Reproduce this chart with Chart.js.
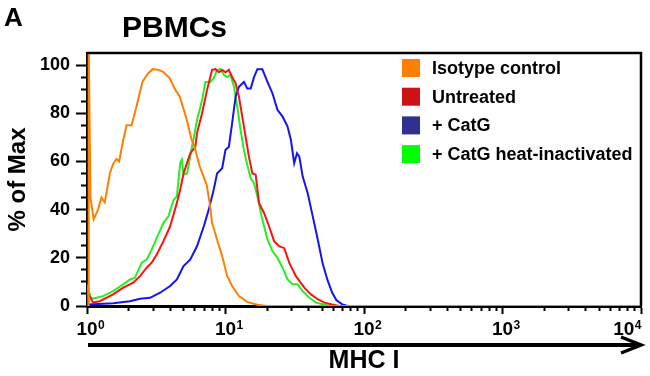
<!DOCTYPE html>
<html>
<head>
<meta charset="utf-8">
<script src="https://cdn.jsdelivr.net/npm/chart.js@4.4.1/dist/chart.umd.min.js"></script>
<style>
    html, body { margin: 0; padding: 0; background: #fff; }
</style>
</head>
<body>
<canvas id="chart-div" width="650" height="376"></canvas>
<script>
// x values are log10(MHC I)
var isoX = [0.008, 0.012, 0.025, 0.048, 0.08, 0.104, 0.128, 0.165, 0.189, 0.213, 0.232, 0.262, 0.286, 0.322, 0.358, 0.4, 0.44, 0.475, 0.516, 0.547, 0.597, 0.635, 0.669, 0.719, 0.755, 0.777, 0.813, 0.863, 0.885, 0.903, 0.939, 0.976, 1.012, 1.048, 1.097, 1.157, 1.23, 1.3, 4];
var isoY = [0, 110, 45, 36, 40, 45, 43, 55, 59, 61, 60, 69, 75, 75, 83, 93, 96.5, 98.3, 98, 97.3, 94.6, 90, 87, 77.6, 69, 66, 58, 50.5, 43, 34.5, 27.6, 20.7, 12.4, 8.3, 4.1, 1.7, 0.5, 0, 0];

var untreatedX = [0.005, 0.01, 0.044, 0.092, 0.189, 0.262, 0.334, 0.383, 0.431, 0.467, 0.504, 0.552, 0.6, 0.649, 0.673, 0.697, 0.722, 0.746, 0.782, 0.794, 0.831, 0.867, 0.903, 0.927, 0.952, 0.976, 1.0, 1.024, 1.048, 1.073, 1.097, 1.121, 1.145, 1.169, 1.194, 1.218, 1.242, 1.278, 1.315, 1.351, 1.387, 1.424, 1.46, 1.508, 1.569, 1.617, 1.666, 1.714, 1.763, 1.82, 4];
var untreatedY = [0, 5, 1.5, 2, 4.8, 7.6, 9.7, 12.4, 15.9, 18, 21.4, 26.9, 33, 42.8, 48.3, 55, 59.3, 63.4, 66, 71.7, 80, 89.7, 98, 98.3, 97, 98, 97, 98, 95, 92.4, 86.9, 78.6, 70.3, 62, 55, 54.5, 42.8, 38.6, 33, 26.9, 24.8, 24, 18, 12.4, 7.6, 4.8, 2.8, 1.4, 0.7, 0, 0];

var catgX = [0.004, 0.01, 0.189, 0.31, 0.383, 0.455, 0.528, 0.6, 0.649, 0.697, 0.746, 0.794, 0.843, 0.879, 0.915, 0.939, 0.976, 1.0, 1.024, 1.048, 1.073, 1.097, 1.133, 1.157, 1.182, 1.206, 1.23, 1.266, 1.303, 1.339, 1.375, 1.412, 1.448, 1.472, 1.496, 1.516, 1.533, 1.557, 1.593, 1.63, 1.666, 1.702, 1.738, 1.77, 1.8, 1.84, 1.88, 4];
var catgY = [0, 0.6, 1.1, 2, 3, 3.4, 5.5, 8.3, 11, 16.6, 19.3, 24.8, 33, 40, 48.3, 55, 57.2, 64.8, 66, 75.9, 86.9, 91, 93, 90.3, 90.3, 95, 98.3, 98.3, 93, 88.3, 81.4, 78.6, 74.5, 69, 59.3, 63.4, 62, 53.8, 46.9, 37.2, 27.6, 17.5, 10.5, 5.6, 2.5, 0.8, 0, 0];

var heatX = [0.004, 0.008, 0.031, 0.068, 0.116, 0.189, 0.262, 0.31, 0.346, 0.395, 0.431, 0.467, 0.504, 0.552, 0.588, 0.625, 0.649, 0.673, 0.685, 0.697, 0.722, 0.758, 0.794, 0.831, 0.855, 0.891, 0.915, 0.939, 0.964, 0.988, 1.012, 1.036, 1.061, 1.085, 1.109, 1.133, 1.157, 1.182, 1.206, 1.23, 1.266, 1.303, 1.339, 1.375, 1.412, 1.448, 1.484, 1.521, 1.557, 1.605, 1.654, 1.702, 1.75, 4];
var heatY = [0, 7, 3, 3.4, 4.1, 6.2, 9, 11, 11.7, 18, 19.3, 23.4, 28.3, 34.5, 37.2, 44, 45.5, 59.3, 60.7, 54.5, 55, 66, 77, 85.5, 93, 93, 94.5, 98, 98.3, 96, 95, 96, 91, 82.8, 73, 64.8, 58.6, 53, 51, 45.5, 35.9, 27.6, 22.8, 20, 15.9, 11, 9, 9, 6.2, 3.4, 1.4, 0.7, 0, 0];

var seriesLabels = ['Isotype control', 'Untreated', '+ CatG', '+ CatG heat-inactivated'];
var xDecades = [0, 1, 2, 3, 4];
var xTickBase = '10';
var xTickExp = ['0', '1', '2', '3', '4'];
var yTicks = [0, 20, 40, 60, 80, 100];

var fontFam = '"Liberation Sans", Arial, sans-serif';

function pts(xs, ys) {
    return xs.map(function (x, i) { return {x: x, y: ys[i]}; });
}

// title, frame, arrow, 10^n labels and legend
var decor = {
    id: 'decor',
    afterDraw: function (chart) {
        var c = chart.ctx, a = chart.chartArea, sx = chart.scales.x;
        c.save();
        c.strokeStyle = '#000';
        c.lineWidth = 2.5;
        c.beginPath();
        c.moveTo(a.left, a.top);
        c.lineTo(a.right, a.top);
        c.lineTo(a.right, a.bottom);
        c.stroke();

        // arrow under the axis
        c.lineWidth = 4;
        c.beginPath();
        c.moveTo(a.left + 1, 345);
        c.lineTo(a.right, 345);
        c.stroke();
        c.lineWidth = 3.5;
        c.lineJoin = 'miter';
        c.beginPath();
        c.moveTo(a.right - 20, 337);
        c.lineTo(a.right, 345);
        c.lineTo(a.right - 20, 353);
        c.stroke();

        c.fillStyle = '#000';
        c.textBaseline = 'alphabetic';
        c.font = 'bold 26px ' + fontFam;
        c.fillText('A', 4, 26);
        c.font = 'bold 30px ' + fontFam;
        c.fillText('PBMCs', 122, 37);

        // x tick labels 10^n, base centred on the tick
        xDecades.forEach(function (d, i) {
            var px = sx.getPixelForValue(d);
            c.font = 'bold 19px ' + fontFam;
            var w = c.measureText(xTickBase).width;
            c.font = 'bold 12px ' + fontFam;
            var we = c.measureText(xTickExp[i]).width;
            var left = px - w / 2;
            if (left + w + we > a.right) left = a.right - w - we;
            c.font = 'bold 19px ' + fontFam;
            c.fillText(xTickBase, left, 335);
            c.font = 'bold 12px ' + fontFam;
            c.fillText(xTickExp[i], left + w + 0.5, 329);
        });

        // legend
        c.font = 'bold 18px ' + fontFam;
        c.textBaseline = 'middle';
        chart.data.datasets.forEach(function (ds, i) {
            var cy = 68 + i * 28.7;
            c.fillStyle = ds.backgroundColor;
            c.fillRect(402, cy - 9, 18, 18);
            c.fillStyle = '#000';
            c.fillText(ds.label, 432, cy + 1);
        });
        c.restore();
    }
};

var config = {
    type: 'line',
    data: {
        datasets: [
            {label: seriesLabels[0], data: pts(isoX, isoY), borderColor: '#ff8000', backgroundColor: '#ff7f00'},
            {label: seriesLabels[1], data: pts(untreatedX, untreatedY), borderColor: '#ff1010', backgroundColor: '#cc1414'},
            {label: seriesLabels[2], data: pts(catgX, catgY), borderColor: '#1414f0', backgroundColor: '#2e3192'},
            {label: seriesLabels[3], data: pts(heatX, heatY), borderColor: '#22f022', backgroundColor: '#00ff00'}
        ]
    },
    options: {
        responsive: false,
        animation: false,
        layout: {padding: {top: 53, right: 9, left: 0, bottom: 0}},
        elements: {
            line: {borderWidth: 2, tension: 0, fill: false},
            point: {radius: 0}
        },
        plugins: {
            legend: {display: false},
            tooltip: {enabled: false}
        },
        scales: {
            x: {
                type: 'linear',
                min: 0,
                max: 4,
                afterBuildTicks: function (s) {
                    var t = [];
                    xDecades.forEach(function (d) {
                        if (d === 4) { t.push({value: d}); return; }
                        for (var k = 1; k < 10; k++) t.push({value: d + Math.log10(k)});
                    });
                    s.ticks = t;
                },
                afterFit: function (s) {
                    s.height = 70;
                    s.paddingLeft = 0;
                    s.paddingRight = 0;
                },
                border: {color: '#000', width: 3},
                grid: {
                    drawOnChartArea: false,
                    tickLength: 8,
                    tickColor: '#000',
                    tickWidth: 2,
                    tickBorderDash: function (ctx) {
                        return (ctx.tick && !Number.isInteger(ctx.tick.value)) ? [3, 30] : [];
                    }
                },
                ticks: {
                    autoSkip: false,
                    maxRotation: 0,
                    callback: function () { return ''; }
                },
                title: {
                    display: true,
                    text: 'MHC I',
                    color: '#000',
                    padding: {top: 0, bottom: 0},
                    font: {family: fontFam, size: 25, weight: 'bold'}
                }
            },
            y: {
                min: 0,
                max: 105,
                afterBuildTicks: function (s) {
                    var t = [];
                    for (var v = 0; v <= 100; v += 5) t.push({value: v});
                    s.ticks = t;
                },
                afterFit: function (s) {
                    s.width = 87;
                    s.paddingTop = 0;
                    s.paddingBottom = 0;
                },
                border: {color: '#000', width: 3},
                grid: {
                    drawOnChartArea: false,
                    tickLength: 11,
                    tickColor: '#000',
                    tickWidth: 2,
                    tickBorderDash: function (ctx) {
                        return (ctx.tick && yTicks.indexOf(ctx.tick.value) < 0) ? [5, 5] : [];
                    },
                    tickBorderDashOffset: function (ctx) {
                        return (ctx.tick && yTicks.indexOf(ctx.tick.value) < 0) ? 5 : 0;
                    }
                },
                ticks: {
                    autoSkip: false,
                    padding: 6,
                    color: '#000',
                    font: {family: fontFam, size: 18, weight: 'bold'},
                    callback: function (v) {
                        return yTicks.indexOf(v) >= 0 ? String(v) : '';
                    }
                },
                title: {
                    display: true,
                    text: '% of Max',
                    color: '#000',
                    padding: 4,
                    font: {family: fontFam, size: 24, weight: 'bold'}
                }
            }
        }
    },
    plugins: [decor]
};

var chart = new Chart(document.getElementById('chart-div').getContext('2d'), config);
</script>
</body>
</html>
